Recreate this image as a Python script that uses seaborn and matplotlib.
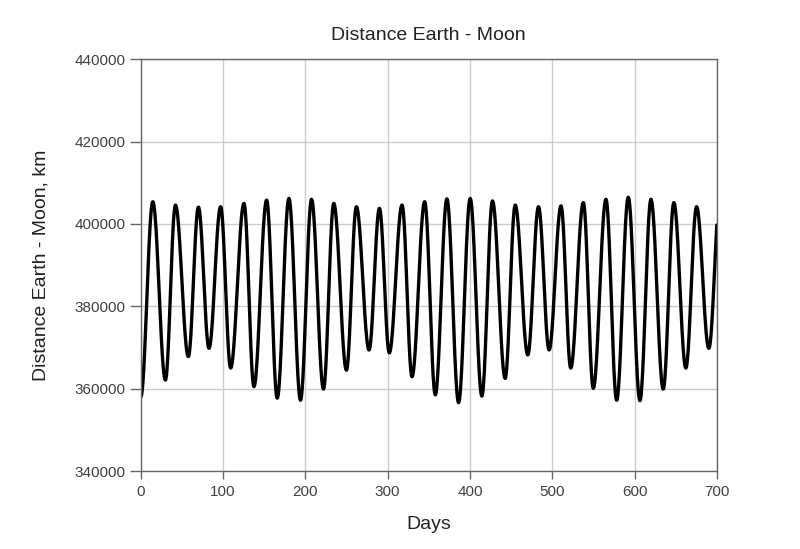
import numpy as np
import pandas as pd
import seaborn as sns
import matplotlib
matplotlib.use("Agg")
import matplotlib.pyplot as plt

# Extremes (alternating trough / peak): day, distance in km
ext_days = [0, 14.6, 29.9, 42.1, 57.8, 70.0, 82.9, 97.0, 109.2, 125.4, 137.5,
            152.9, 165.8, 180.0, 194.1, 207.5, 222.0, 234.5, 249.9, 262.0, 277.4,
            290.0, 302.0, 317.5, 329.6, 345.0, 357.9, 372.0, 386.2, 400.3, 414.5,
            427.4, 442.8, 455.0, 470.3, 483.3, 496.2, 510.7, 522.5, 537.8, 549.9,
            565.3, 578.3, 592.4, 606.6, 620.0, 634.9, 647.8, 662.4, 675.4, 690.3]
ext_km = [358000, 405400, 362100, 404600, 367800, 404100, 369800, 404200, 365000,
          405000, 360500, 405800, 357700, 406200, 357200, 406000, 359900, 405000,
          364500, 404200, 369400, 403800, 368700, 404600, 362900, 405400, 358500,
          406100, 356600, 406200, 358200, 405600, 362500, 404600, 368200, 404200,
          369400, 404400, 365000, 405200, 360100, 406000, 357200, 406500, 357100,
          406000, 359900, 405200, 365000, 404200, 369800]
end_day = 700
end_km = 399750

x_ticks = [0, 100, 200, 300, 400, 500, 600, 700]
y_ticks = [340000, 360000, 380000, 400000, 420000, 440000]

# Smooth rendering between the read extremes (cosine easing between turning points)
xs, ys = [], []
for i in range(len(ext_days) - 1):
    d0, d1 = ext_days[i], ext_days[i + 1]
    v0, v1 = ext_km[i], ext_km[i + 1]
    t = np.linspace(0, 1, 40, endpoint=False)
    xs.extend(d0 + (d1 - d0) * t)
    ys.extend(v0 + (v1 - v0) * (1 - np.cos(np.pi * t)) / 2)
# final partial rise to the end point
half = np.mean(np.diff(ext_days[-6:]))
dT, vT = ext_days[-1], ext_km[-1]
frac = (end_day - dT) / half
A = (end_km - vT) / ((1 - np.cos(np.pi * frac)) / 2)
t = np.linspace(0, frac, 30)
xs.extend(dT + half * t)
ys.extend(vT + A * (1 - np.cos(np.pi * t)) / 2)

df = pd.DataFrame({"Days": xs, "Distance": ys})

sns.set_theme(style="whitegrid")
plt.rcParams['font.family'] = ['Liberation Sans', 'DejaVu Sans']
plt.rcParams['xtick.bottom'] = True
plt.rcParams['ytick.left'] = True

fig = plt.figure(figsize=(8, 5.49), dpi=100)
ax = fig.add_axes([0.176, 0.142, 0.720, 0.750])
sns.lineplot(data=df, x="Days", y="Distance", ax=ax, color="black", linewidth=2.4, sort=False)

ax.set_xlim(0, 700)
ax.set_ylim(340000, 440000)
ax.set_xticks(x_ticks)
ax.set_yticks(y_ticks)
ax.set_xticklabels([str(v) for v in x_ticks])
ax.set_yticklabels([str(v) for v in y_ticks])
ax.grid(True, color="#cccccc", linewidth=1.0)
for s in ax.spines.values():
    s.set_color("#666666")
    s.set_linewidth(1.0)
    s.set_visible(True)
ax.tick_params(axis="y", which="major", length=8, width=1, color="#666666",
               labelcolor="#404040", labelsize=11, direction="out", left=True, pad=3)
ax.tick_params(axis="x", which="major", length=6, width=1, color="#666666",
               labelcolor="#404040", labelsize=11, direction="out", bottom=True, pad=4)
ax.set_title("Distance Earth - Moon", fontsize=14, color="#222222", pad=14)
ax.set_xlabel("Days", fontsize=14, color="#222222", labelpad=12)
ax.set_ylabel("Distance Earth - Moon, km", fontsize=14, color="#222222", labelpad=18)
ax.set_facecolor("white")
fig.patch.set_facecolor("white")
fig.savefig("out.png", dpi=100)
